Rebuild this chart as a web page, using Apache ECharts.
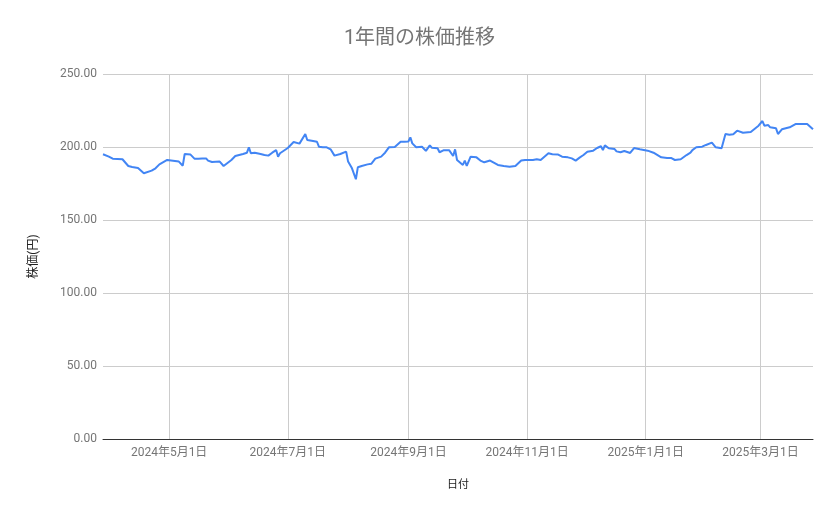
<!DOCTYPE html>
<html>
<head>
<meta charset="utf-8">
<script src="https://cdn.jsdelivr.net/npm/echarts@6/dist/echarts.min.js"></script>
<style>
html,body{margin:0;padding:0;background:#fff;}
#chart{width:839px;height:519px;}
</style>
</head>
<body>
<div id="chart"></div>
<script>
const chartTitle = '1年間の株価推移';
const xAxisTitle = '日付';
const yAxisTitle = '株価(円)';

const dates = [
'2024-03-28','2024-03-31','2024-04-02','2024-04-03','2024-04-07','2024-04-10','2024-04-12','2024-04-15','2024-04-18','2024-04-19','2024-04-22','2024-04-24','2024-04-25','2024-04-26','2024-04-30',
'2024-05-01','2024-05-06','2024-05-08','2024-05-09','2024-05-12','2024-05-14','2024-05-15','2024-05-16','2024-05-18','2024-05-20','2024-05-21','2024-05-23','2024-05-27','2024-05-28','2024-05-29','2024-05-30',
'2024-06-02','2024-06-04','2024-06-08','2024-06-10','2024-06-11','2024-06-12','2024-06-14','2024-06-15','2024-06-17','2024-06-19','2024-06-21','2024-06-23','2024-06-25','2024-06-26','2024-06-27',
'2024-07-01','2024-07-02','2024-07-04','2024-07-07','2024-07-10','2024-07-11','2024-07-14','2024-07-16','2024-07-17','2024-07-19','2024-07-21','2024-07-23','2024-07-25','2024-07-26','2024-07-28','2024-07-29','2024-07-31',
'2024-08-01','2024-08-03','2024-08-05','2024-08-06','2024-08-08','2024-08-11','2024-08-13','2024-08-15','2024-08-18','2024-08-20','2024-08-22','2024-08-25','2024-08-28','2024-08-30',
'2024-09-01','2024-09-02','2024-09-03','2024-09-04','2024-09-05','2024-09-08','2024-09-09','2024-09-10','2024-09-12','2024-09-13','2024-09-16','2024-09-17','2024-09-19','2024-09-22','2024-09-23','2024-09-24','2024-09-25','2024-09-26','2024-09-29','2024-09-30',
'2024-10-01','2024-10-03','2024-10-06','2024-10-08','2024-10-09','2024-10-10','2024-10-13','2024-10-14','2024-10-17','2024-10-20','2024-10-23','2024-10-24','2024-10-26','2024-10-29','2024-10-30','2024-10-31',
'2024-11-04','2024-11-06','2024-11-08','2024-11-09','2024-11-12','2024-11-14','2024-11-17','2024-11-18','2024-11-19','2024-11-22','2024-11-24','2024-11-26','2024-11-28','2024-11-30',
'2024-12-02','2024-12-05','2024-12-07','2024-12-09','2024-12-10','2024-12-11','2024-12-13','2024-12-16','2024-12-17','2024-12-19','2024-12-21','2024-12-22','2024-12-24','2024-12-26','2024-12-29',
'2025-01-02','2025-01-05','2025-01-06','2025-01-09','2025-01-12','2025-01-14','2025-01-16','2025-01-19','2025-01-20','2025-01-22','2025-01-24','2025-01-25','2025-01-27','2025-01-30',
'2025-02-01','2025-02-04','2025-02-06','2025-02-09','2025-02-11','2025-02-13','2025-02-15','2025-02-17','2025-02-20','2025-02-24','2025-02-25','2025-02-28',
'2025-03-02','2025-03-03','2025-03-05','2025-03-06','2025-03-09','2025-03-10','2025-03-12','2025-03-13','2025-03-16','2025-03-17','2025-03-19','2025-03-23','2025-03-25','2025-03-26','2025-03-28'
];

const prices = [
195.0,193.4,192.0,191.6,191.6,187.0,186.3,185.6,182.0,182.0,183.8,185.4,184.3,188.1,191.1,
190.0,190.0,187.2,195.2,194.8,192.0,192.9,192.0,192.2,192.2,190.7,189.7,190.0,190.0,187.0,187.7,
191.1,193.8,195.2,196.1,199.8,195.7,196.1,195.0,195.2,194.5,194.1,196.1,197.9,193.4,195.7,
199.3,200.7,203.4,202.3,208.9,204.8,204.1,203.6,200.2,199.8,199.8,198.4,194.1,193.4,195.2,194.5,196.8,
190.0,185.4,177.9,186.1,187.0,188.1,188.6,192.0,193.4,196.1,199.8,200.0,203.6,203.6,
203.8,206.6,202.5,203.6,199.8,200.2,200.7,197.3,201.1,199.5,199.1,196.4,197.7,197.7,196.6,193.8,198.4,191.1,187.7,190.7,
187.0,193.4,192.9,190.7,191.6,189.5,190.7,191.1,187.7,187.0,186.5,185.4,187.0,190.7,192.0,191.1,
191.1,191.6,191.1,190.0,195.7,195.0,194.8,196.1,193.4,192.9,192.2,190.7,192.7,194.5,
196.8,197.5,199.3,200.5,197.9,201.1,199.1,198.6,197.0,196.4,197.3,197.5,195.9,199.3,198.4,
197.5,196.1,196.8,192.9,192.5,192.5,191.1,191.6,191.1,194.5,196.1,197.9,199.8,200.2,
201.4,203.0,199.8,199.1,208.9,208.4,208.7,211.2,209.8,210.3,210.5,214.6,
217.8,214.6,215.0,213.5,212.8,208.9,212.1,211.6,213.5,212.8,215.7,215.7,215.7,216.6,212.1
];

const tickDates = ['2024-05-01','2024-07-01','2024-09-01','2024-11-01','2025-01-01','2025-03-01'];
const xRange = ['2024-03-28','2025-03-28'];
const yTicks = [0, 50, 100, 150, 200, 250];

function ts(s){ const p = s.split('-').map(Number); return new Date(p[0], p[1]-1, p[2]).getTime(); }

const FONT = "Roboto, 'Noto Sans CJK JP', sans-serif";
const chart = echarts.init(document.getElementById('chart'), null, {renderer:'canvas'});
const tickTs = tickDates.map(ts);

chart.setOption({
  animation: false,
  backgroundColor: '#ffffff',
  textStyle: { fontFamily: FONT },
  title: {
    text: chartTitle,
    left: 'center',
    top: 29,
    padding: 0,
    textStyle: { fontFamily: FONT, fontSize: 20, fontWeight: 'normal', color: '#757575' }
  },
  grid: { left: 103, right: 26, top: 74, bottom: 80, containLabel: false },
  xAxis: {
    type: 'value',
    min: ts(xRange[0]),
    max: ts(xRange[1]),
    scale: true,
    name: xAxisTitle,
    nameLocation: 'middle',
    nameGap: 41,
    nameTextStyle: { fontFamily: FONT, fontSize: 11, color: '#222222' },
    axisLine: { show: true, onZero: false, lineStyle: { color: '#333333', width: 1 } },
    axisTick: { show: false, customValues: tickTs },
    axisLabel: {
      customValues: tickTs,
      margin: 8,
      showMinLabel: true, showMaxLabel: true,
      fontFamily: FONT, fontSize: 12, color: '#757575',
      formatter: function (v) { const d = new Date(v); return d.getFullYear() + '年' + (d.getMonth()+1) + '月' + d.getDate() + '日'; }
    },
    splitLine: { show: true, lineStyle: { color: '#cccccc', width: 1 } }
  },
  yAxis: {
    type: 'value',
    min: yTicks[0],
    max: yTicks[yTicks.length-1],
    interval: yTicks[1] - yTicks[0],
    name: yAxisTitle,
    nameLocation: 'middle',
    nameGap: 63,
    nameTextStyle: { fontFamily: FONT, fontSize: 12, color: '#222222' },
    axisLine: { show: false },
    axisTick: { show: false },
    axisLabel: { margin: 6, fontFamily: FONT, fontSize: 12, color: '#757575', formatter: function (v) { return v.toFixed(2); } },
    splitLine: { show: true, lineStyle: { color: '#cccccc', width: 1 } }
  },
  series: [{
    type: 'line',
    data: dates.map(function (d, i) { return [ts(d), prices[i]]; }),
    showSymbol: false,
    symbol: 'none',
    smooth: false,
    lineStyle: { color: '#4285F4', width: 2 },
    itemStyle: { color: '#4285F4' }
  }]
});
</script>
</body>
</html>
